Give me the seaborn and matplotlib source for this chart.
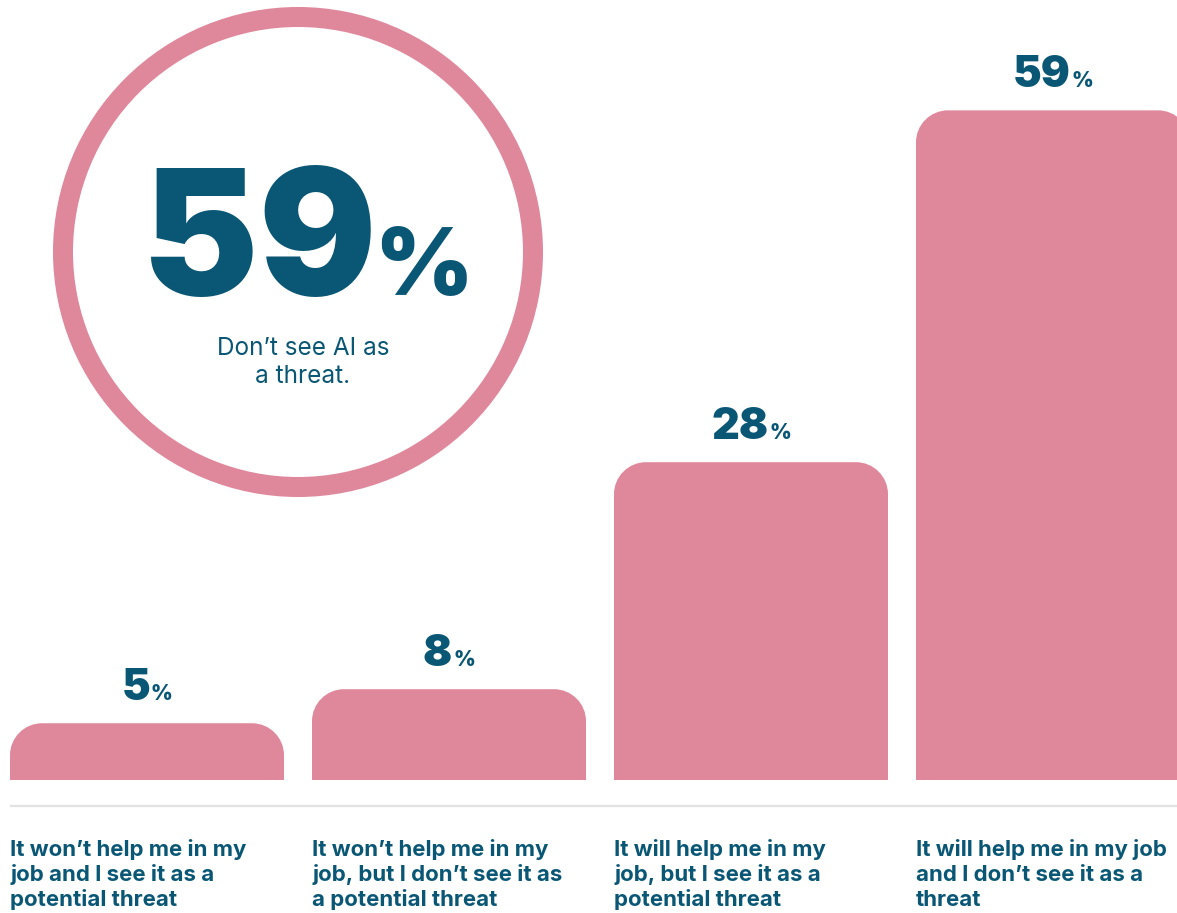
import matplotlib
matplotlib.use("Agg")
import matplotlib.pyplot as plt
import seaborn as sns
import pandas as pd
from matplotlib.path import Path
from matplotlib.patches import PathPatch, Circle

# ---------------- data ----------------
categories = [
    "It won\u2019t help me in my\njob and I see it as a\npotential threat",
    "It won\u2019t help me in my\njob, but I don\u2019t see it as\na potential threat",
    "It will help me in my\njob, but I see it as a\npotential threat",
    "It will help me in my job\nand I don\u2019t see it as a\nthreat",
]
values = [5, 8, 28, 59]
headline_value = 59
headline_caption = ["Don\u2019t see AI as", "a threat."]

# ---------------- style ----------------
PINK = "#DF879B"
TEAL = "#0A5775"
RULE = "#E2E2E2"

sns.set_theme(style="white")
plt.rcParams["font.family"] = ["Inter", "DejaVu Sans"]

W, H = 1177, 913
fig = plt.figure(figsize=(W / 100, H / 100), dpi=100)
fig.patch.set_facecolor("white")

PX_PER_UNIT = 11.35     # pixels per percentage point
SLOT = 302              # pixels per category slot
BASE = 780              # baseline (pixels from top)

ax = fig.add_axes([0, (H - BASE) / H, 1, BASE / H])
df = pd.DataFrame({"cat": categories, "val": values})
sns.barplot(data=df, x="cat", y="val", ax=ax, color=PINK, saturation=1,
            width=274 / SLOT)
ax.set_xlim(-147 / SLOT, (W - 147) / SLOT)
ax.set_ylim(0, BASE / PX_PER_UNIT)
ax.axis("off")

# rounded top corners
K = 0.5523
def top_rounded(x0, w, h, rx, ry):
    ry = min(ry, h)
    x1 = x0 + w
    verts = [
        (x0, 0), (x1, 0), (x1, h - ry),
        (x1, h - ry + K * ry), (x1 - rx + K * rx, h), (x1 - rx, h),
        (x0 + rx, h),
        (x0 + rx - K * rx, h), (x0, h - ry + K * ry), (x0, h - ry),
        (x0, 0),
    ]
    codes = [Path.MOVETO, Path.LINETO, Path.LINETO,
             Path.CURVE4, Path.CURVE4, Path.CURVE4,
             Path.LINETO,
             Path.CURVE4, Path.CURVE4, Path.CURVE4,
             Path.CLOSEPOLY]
    return Path(verts, codes)

R = 32
bars = list(ax.patches)
fig.canvas.draw()
renderer = fig.canvas.get_renderer()

ov = fig.add_axes([0, 0, 1, 1], zorder=5)
ov.set_xlim(0, W)
ov.set_ylim(H, 0)
ov.axis("off")
ov.patch.set_alpha(0)

for patch, v, lab in zip(bars, values, categories):
    x0, w, h = patch.get_x(), patch.get_width(), patch.get_height()
    patch.set_visible(False)
    ax.add_patch(PathPatch(top_rounded(x0, w, h, R / SLOT, R / PX_PER_UNIT),
                           facecolor=PINK, edgecolor="none"))
    cx = x0 + w / 2
    # value label: big number + small %
    t = ax.annotate(f"{v}", (cx, h), xytext=(0, 0), textcoords="offset points",
                    ha="left", va="baseline", fontsize=31, fontweight="black",
                    color=TEAL)
    p = ax.annotate("%", (cx, h), xytext=(0, 0), textcoords="offset points",
                    ha="left", va="baseline", fontsize=15, fontweight="black",
                    color=TEAL)
    tw = t.get_window_extent(renderer).width
    pw = p.get_window_extent(renderer).width
    gap = 1
    total = tw + gap + pw
    t.set_position((-total / 2 * 0.72, 17))
    p.set_position(((-total / 2 + tw + gap) * 0.72, 17))
    # category label, one line at a time
    left_px = ax.transData.transform((x0, 0))[0]
    for j, line in enumerate(lab.split("\n")):
        ov.text(left_px, 856 + 25 * j, line, ha="left", va="baseline",
                fontsize=16, fontweight="bold", color=TEAL)

# horizontal rule
ov.plot([10, W], [806, 806], color=RULE, lw=1.6, solid_capstyle="butt")

# headline circle
ov.add_patch(Circle((298, 252), 235, fill=False, ec=PINK, lw=20 * 0.72))
ov.text(377, 295, f"{headline_value}", ha="right", va="baseline",
        fontsize=126, fontweight="black", color=TEAL)
ov.text(374, 295, "%", ha="left", va="baseline",
        fontsize=68, fontweight="black", color=TEAL)
for i, line in enumerate(headline_caption):
    ov.text(303, 355 + 28 * i, line, ha="center", va="baseline",
            fontsize=17.5, color=TEAL)

fig.savefig("out.png", dpi=100, facecolor="white")
